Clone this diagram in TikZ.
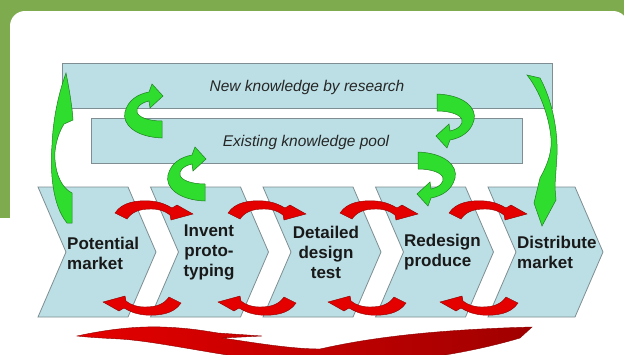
\documentclass[tikz,border=0pt]{standalone}
\usepackage{fontspec}
\setmainfont{Liberation Sans}
\definecolor{bggreen}{HTML}{7FAB4F}
\definecolor{chev}{HTML}{BBDFE5}
\definecolor{edgegrey}{HTML}{7F8E92}
\definecolor{arrgreen}{HTML}{2EDD2E}
\definecolor{arrgreenedge}{HTML}{1F7F1F}
\definecolor{arrred}{HTML}{E50000}
\definecolor{arrrededge}{HTML}{8A0000}
\tikzset{
  chevbox/.style={fill=chev, draw=edgegrey, line width=0.8pt, line join=miter},
  kbox/.style={fill=chev, draw=edgegrey, line width=0.8pt, inner sep=0pt},
  garrow/.style={fill=arrgreen, draw=arrgreenedge, line width=0.5pt},
  rarrow/.style={fill=arrred, draw=arrrededge, line width=0.4pt},
  ktext/.style={font=\fontsize{15.5}{18}\selectfont\itshape, text=black!85},
  ctext/.style={font=\fontsize{17}{20}\selectfont\bfseries, text=black!90, inner sep=0pt},
  redtop/.pic={
    \path[rarrow] (-36,10) .. controls (-29,-1) and (-14,-3) .. (0,-2)
      .. controls (10,-1) and (16,2) .. (21,5) -- (26,2) -- (42,11) -- (20,17) -- (19,12)
      .. controls (14,8) and (8,6) .. (0,6)
      .. controls (-12,6) and (-19,9) .. (-24,16) -- cycle;
  },
  gcurl/.pic={
    \path[garrow] (162,138) .. controls (135,137) and (122,124) .. (125,112)
      .. controls (128,100) and (138,94) .. (149,92) -- (152,84) -- (163,96) -- (150,108) -- (149,101)
      .. controls (140,103) and (136,108) .. (137,112)
      .. controls (138,117) and (148,121) .. (162,121) -- cycle;
  }
}
\begin{document}
\begin{tikzpicture}[x=1pt,y=-1pt]
\useasboundingbox (0,0) rectangle (624,354);
\clip (0,0) rectangle (624,354);
% background
\fill[bggreen] (0,0) rectangle (624,354);
\fill[white, rounded corners=15pt] (10,11) rectangle (628,400);
\fill[white] (0,218) rectangle (12,354);
% knowledge boxes
\node[kbox, minimum width=490pt, minimum height=45pt] (newk) at (307,85.5) {};
\node[ktext] (newkt) at (307,87) {New knowledge by research};
\node[kbox, minimum width=431pt, minimum height=45pt] (exk) at (306.5,140.5) {};
\node[ktext] (exkt) at (306,142) {Existing knowledge pool};
% chevrons
\foreach \L/\W in {38/90, 150.5/90, 263/90, 375.5/90, 488/87}{
  \path[chevbox] (\L,187) -- (\L+\W,187) -- (\L+\W+28,252) -- (\L+\W,317) -- (\L,317) -- (\L+28,252) -- cycle;
}
% small red arrows
\foreach \x in {151,264,376,485}{ \pic at (\x,203) {redtop}; }
\foreach \x in {145,260,370,482}{ \pic[rotate=180] at (\x,313) {redtop}; }
% chevron texts
\node[ctext, anchor=west, align=left] (c1) at (67,253) {Potential\\market};
\node[ctext, align=center] (c2) at (209,252) {Invent\\proto-\\typing};
\node[ctext, align=center] (c3) at (326,252) {Detailed\\design\\test};
\node[ctext, anchor=west, align=left] (c4) at (404,252) {Redesign\\produce};
\node[ctext, anchor=west, align=left] (c5) at (517,252) {Distribute\\market};
% green curl arrows
\pic at (0,0) {gcurl};
\pic at (43,63) {gcurl};
\pic[shift={(599,232)}, rotate=180] at (0,0) {gcurl};
\pic[shift={(580,290)}, rotate=180] at (0,0) {gcurl};
% big green left arrow
\path[garrow] (67,223) .. controls (52,205) and (50,170) .. (52,145)
  .. controls (53,120) and (58,95) .. (66,73)
  .. controls (69,88) and (72,105) .. (73,120) -- (64,124)
  .. controls (57,135) and (54,150) .. (55,160)
  .. controls (56,175) and (62,188) .. (72,193) -- (72,223) -- cycle;
% big green right arrow
\path[garrow] (527,75) -- (540,78) .. controls (552,100) and (558,130) .. (557,155)
  .. controls (556,172) and (555,182) .. (555,188) -- (556,200) -- (542,226) -- (534,203) -- (540,178)
  .. controls (549,162) and (552,150) .. (551,138)
  .. controls (549,115) and (539,90) .. (527,75) -- cycle;
% big red return arrow
\path[left color=arrred, right color=arrred!70!black, draw=arrrededge, line width=0.4pt]
  (77,336) .. controls (100,331) and (130,326) .. (162,327)
  .. controls (190,328) and (205,331) .. (218,333) -- (262,336) -- (222,338)
  .. controls (250,342) and (290,349) .. (320,349)
  .. controls (360,340) and (420,330) .. (532,327) -- (520,338)
  .. controls (480,350) and (420,362) .. (340,366)
  .. controls (260,366) and (170,342) .. (120,339)
  .. controls (100,338) and (85,337) .. (77,336) -- cycle;
\end{tikzpicture}
\end{document}
